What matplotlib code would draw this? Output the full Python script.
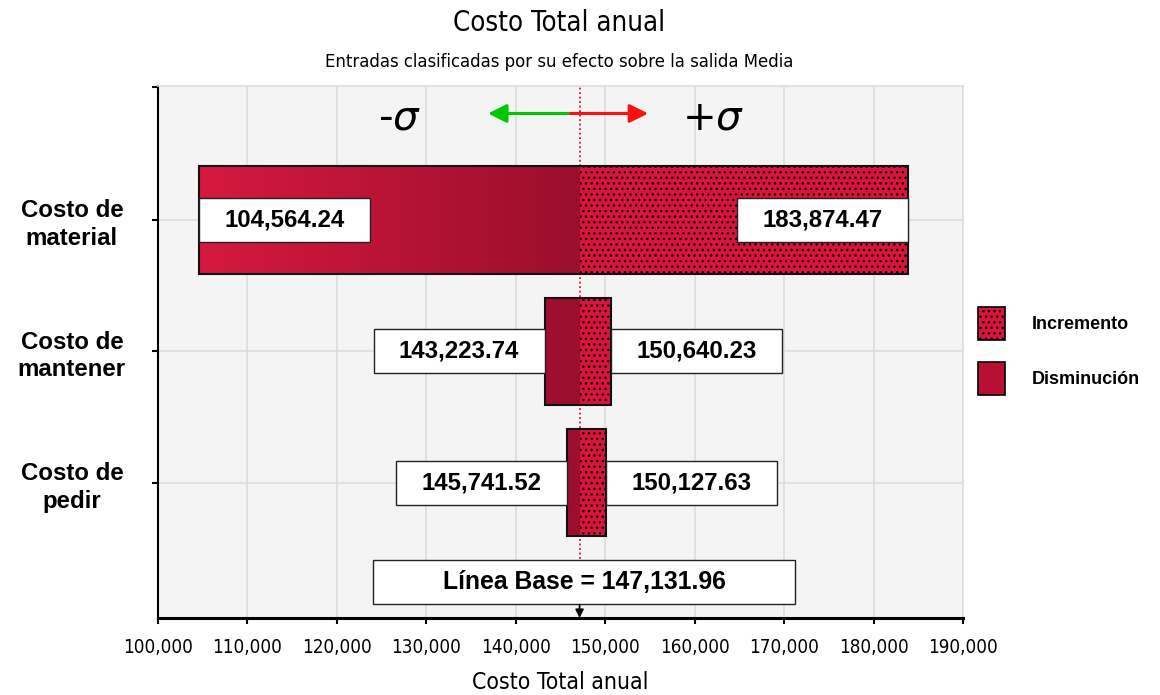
import matplotlib
matplotlib.use("Agg")
import matplotlib.pyplot as plt
from matplotlib.patches import Rectangle, Patch
from matplotlib.colors import LinearSegmentedColormap
from matplotlib.transforms import ScaledTranslation
import numpy as np

# Datos del tornado
categorias = ["Costo de\nmaterial", "Costo de\nmantener", "Costo de\npedir"]
valor_bajo = [104564.24, 143223.74, 145741.52]
valor_alto = [183874.47, 150640.23, 150127.63]
linea_base = 147131.96
ticks_x = list(range(100000, 190001, 10000))

# Fuentes
narrow = dict(family="DejaVu Sans", fontstretch="condensed")
bold = ["Liberation Sans", "DejaVu Sans"]
plt.rcParams["hatch.linewidth"] = 1.0
plt.rcParams["mathtext.fontset"] = "dejavusans"

fig = plt.figure(figsize=(11.6, 6.95), dpi=100)
ax = fig.add_axes([158 / 1160, 1 - 618 / 695, 805 / 1160, 532 / 695])
ax.set_facecolor("#f4f4f4")

xmin, xmax = 100000, 190000
ymin, ymax = -1.019, 3.027
alto_barra = 0.814
ancho_caja = 19130
alto_caja = 0.335

cmap = LinearSegmentedColormap.from_list("dism", ["#dc1a41", "#9b0e2d"])
grad = np.linspace(0, 1, 256).reshape(1, -1)

for i, (lo, hi) in enumerate(zip(valor_bajo, valor_alto)):
    y0 = i - alto_barra / 2
    # Parte de disminución con degradado
    rect_lo = Rectangle((lo, y0), linea_base - lo, alto_barra, facecolor="none",
                        edgecolor="none", zorder=2)
    ax.add_patch(rect_lo)
    im = ax.imshow(grad, extent=[xmin, linea_base, ymax, ymin], cmap=cmap,
                   aspect="auto", zorder=2, interpolation="bilinear")
    im.set_clip_path(rect_lo)
    # Parte de incremento con puntos
    ax.add_patch(Rectangle((linea_base, y0), hi - linea_base, alto_barra,
                           facecolor="#dc143c", edgecolor="black", hatch="...",
                           linewidth=0, zorder=2))
    # Contorno
    ax.add_patch(Rectangle((lo, y0), hi - lo, alto_barra, facecolor="none",
                           edgecolor="#111111", linewidth=1.5, zorder=3))

    # Cajas con los valores
    x_izq = lo if lo - ancho_caja < xmin else lo - ancho_caja
    x_der = hi - ancho_caja if hi + ancho_caja > xmax else hi
    for xc, v in [(x_izq, lo), (x_der, hi)]:
        ax.add_patch(Rectangle((xc, i - alto_caja / 2), ancho_caja, alto_caja,
                               facecolor="white", edgecolor="#222222",
                               linewidth=1.0, zorder=4))
        ax.text(xc + ancho_caja / 2, i, f"{v:,.2f}", ha="center", va="center",
                family=bold, fontweight="bold", fontsize=17.3, zorder=5)

# Línea base
ax.axvline(linea_base, ymin=(ymax - 2.92) / (ymax - ymin), ymax=1,
           color="#dc143c", linestyle=(0, (1, 1.5)), linewidth=1.3, zorder=1)
ancho_base = 47200
y_base = 2.753
ax.add_patch(Rectangle((linea_base - ancho_base / 2 + 500, y_base - alto_caja / 2),
                       ancho_base, alto_caja, facecolor="white",
                       edgecolor="#222222", linewidth=1.0, zorder=4))
ax.text(linea_base + 500, y_base, f"Línea Base = {linea_base:,.2f}",
        ha="center", va="center", family=bold, fontweight="bold", fontsize=17.8,
        zorder=5)
ax.annotate("", xy=(linea_base, ymax), xytext=(linea_base, 2.925),
            arrowprops=dict(arrowstyle="-|>", color="black", lw=1.3,
                            mutation_scale=12, shrinkA=0, shrinkB=0), zorder=5)

# Flechas sigma
y_flecha = -0.81
ax.annotate("", xy=(136900, y_flecha), xytext=(linea_base - 1000, y_flecha),
            arrowprops=dict(arrowstyle="-|>", color="#00c800", lw=2.2,
                            mutation_scale=28, shrinkA=0, shrinkB=0), zorder=5)
ax.annotate("", xy=(154800, y_flecha), xytext=(linea_base - 1000, y_flecha),
            arrowprops=dict(arrowstyle="-|>", color="#ff1010", lw=2.2,
                            mutation_scale=28, shrinkA=0, shrinkB=0), zorder=5)
ax.text(127000, -0.77, r"-$\sigma$", ha="center", va="center", fontsize=29)
ax.text(162100, -0.77, r"+$\sigma$", ha="center", va="center", fontsize=29)

# Ejes
ax.set_xlim(xmin, xmax)
ax.set_ylim(ymax, ymin)
ax.set_xticks(ticks_x)
ax.set_xticklabels([f"{t:,}" for t in ticks_x], fontsize=13.5, **narrow)
ax.set_yticks(range(len(categorias)))
ax.set_yticklabels(categorias, family=bold, fontweight="bold", fontsize=17.3,
                   ha="center", linespacing=1.25)
desplazar = ScaledTranslation(0, -4 / 100, fig.dpi_scale_trans)
for lbl in ax.get_yticklabels():
    lbl.set_transform(lbl.get_transform() + desplazar)
ax.set_yticks([ymin + 0.005], minor=True)
ax.tick_params(axis="y", which="both", length=4, width=1.5, pad=58)
ax.tick_params(axis="x", length=4.5, width=1.5, pad=10)
ax.grid(True, color="#dcdcdc", linewidth=1.2)
ax.set_axisbelow(True)
for s in ["top", "right"]:
    ax.spines[s].set_color("#dddddd")
    ax.spines[s].set_linewidth(1.2)
ax.spines["left"].set_linewidth(1.5)
ax.spines["bottom"].set_linewidth(2.2)
ax.set_xlabel("Costo Total anual", fontsize=16.5, labelpad=10, **narrow)

fig.text(0.5 * (453 + 665) / 1160, 1 - 23 / 695, "Costo Total anual",
         ha="center", va="center", fontsize=19.8, **narrow)
fig.text(0.5 * (325 + 793) / 1160, 1 - 62 / 695,
         "Entradas clasificadas por su efecto sobre la salida Media",
         ha="center", va="center", fontsize=13.2, **narrow)

# Leyenda
handles = [Patch(facecolor="#dc143c", edgecolor="black", hatch="...",
                 linewidth=1.2, label="Incremento"),
           Patch(facecolor="#b81034", edgecolor="black", linewidth=1.2,
                 label="Disminución")]
fig.legend(handles=handles, loc="upper left",
           bbox_to_anchor=(978 / 1160, 1 - 307 / 695), frameon=False,
           borderpad=0, prop=dict(family=bold, weight="bold", size=13),
           handlelength=1.5, handleheight=2.44, labelspacing=1.23,
           handletextpad=1.45, borderaxespad=0)

fig.savefig("out.png", dpi=100)
